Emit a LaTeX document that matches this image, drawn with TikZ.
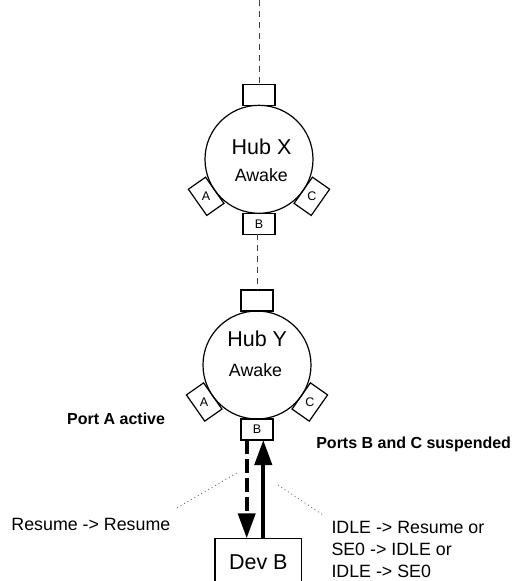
\documentclass[tikz,border=0pt]{standalone}
\usepackage{fontspec}
\setmainfont{Liberation Sans}
\usetikzlibrary{arrows.meta,calc}
\begin{document}
\begin{tikzpicture}[x=1pt,y=-1pt,
  hub/.style={circle,draw,line width=1.2pt,minimum size=108pt,inner sep=0pt,outer sep=0pt},
  port/.style={draw,line width=1.2pt,minimum width=32pt,minimum height=21pt,inner sep=0pt,outer sep=0pt},
  plab/.style={font=\fontsize{12.5}{14}\selectfont,inner sep=0pt},
  big/.style={font=\fontsize{21.5}{24}\selectfont,inner sep=0pt,anchor=base},
  mid/.style={font=\fontsize{17.8}{22}\selectfont,inner sep=0pt},
  boldlab/.style={font=\fontsize{16}{19}\selectfont\bfseries,inner sep=0pt,anchor=base west},
  link/.style={line width=0.8pt,black!75,dash pattern=on 6pt off 5pt},
  leader/.style={line width=0.8pt,black!60,dash pattern=on 1pt off 3pt},
  sig/.style={line width=4pt,-{Triangle[width=17pt,length=25pt]}}
]
\useasboundingbox (0,0) rectangle (512,581);

% Hub X
\node[hub] (hx) at (259,159.3) {};
\node[port,anchor=south] (hxT) at (hx.north) {};
\node[port,anchor=north] (hxB) at (hx.south) {};
\node[port,anchor=north,rotate=-55] (hxA) at (hx.215) {};
\node[port,anchor=north,rotate=55] (hxC) at (hx.325) {};
\node[plab] (hxBt) at (hxB.center) {B};
\node[plab] (hxAt) at (hxA.center) {A};
\node[plab] (hxCt) at (hxC.center) {C};
\node[big] (hxn) at (261.5,154.7) {Hub X};
\node[mid,anchor=base] (hxs) at (261.3,181.9) {Awake};

% Hub Y
\node[hub] (hy) at (257,365) {};
\node[port,anchor=south] (hyT) at (hy.north) {};
\node[port,anchor=north] (hyB) at (hy.south) {};
\node[port,anchor=north,rotate=-55] (hyA) at (hy.215) {};
\node[port,anchor=north,rotate=55] (hyC) at (hy.325) {};
\node[plab] (hyBt) at (hyB.center) {B};
\node[plab] (hyAt) at (hyA.center) {A};
\node[plab] (hyCt) at (hyC.center) {C};
\node[big] (hyn) at (257.2,346.9) {Hub Y};
\node[mid,anchor=base] (hys) at (255.5,376.4) {Awake};

% upstream links
\coordinate (topend) at (259.3,0);
\draw[link] (topend) -- (hxT.north -| topend);
\draw[link] (hxB.south -| hyT.north) -- (hyT.north);

% device
\node[draw,line width=1.2pt,minimum width=86.7pt,minimum height=70pt,inner sep=0pt,outer sep=0pt,anchor=north] (dev) at (258.3,538.3) {};
\node[big] (devt) at (258.3,569.4) {Dev B};

% signalling arrows
\coordinate (dl) at (246.7,0);
\coordinate (ul) at (263.3,0);
\draw[sig,dash pattern=on 14pt off 5pt] (hyB.south -| dl) -- (dev.north -| dl);
\draw[sig] (dev.north -| ul) -- (hyB.south -| ul);

% labels
\node[boldlab] (pa) at (67,424.9) {Port A active};
\node[boldlab] (pbc) at (316.1,448.2) {Ports B and C suspended};
\node[mid,anchor=base west] (rr) at (11.3,530.7) {Resume -> Resume};
\node[mid,anchor=base west] (i1) at (331.3,533.6) {IDLE -> Resume or};
\node[mid,anchor=base west] (i2) at (331.3,555.3) {SE0 -> IDLE or};
\node[mid,anchor=base west] (i3) at (331.3,577) {IDLE -> SE0};

% leaders
\coordinate (l1) at (236.7,473);
\coordinate (l2) at (176.7,508);
\coordinate (r1) at (278,485);
\coordinate (r2) at (323,515);
\draw[leader] (l1) -- (l2);
\draw[leader] (r1) -- (r2);
\end{tikzpicture}
\end{document}
